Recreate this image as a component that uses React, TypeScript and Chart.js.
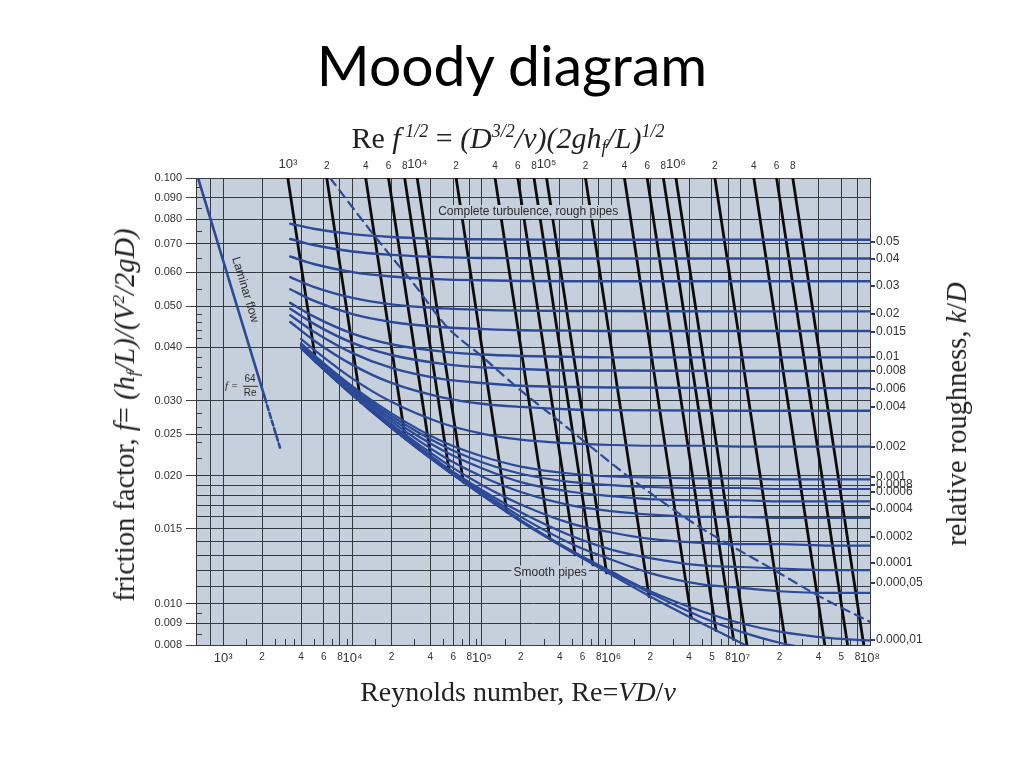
import React, { useEffect, useRef } from 'react';
import { Chart, registerables } from 'chart.js';

Chart.register(...registerables);

// ---------------- axis ticks ----------------
const xTickValues = [800, 1e3, 2e3, 4e3, 6e3, 8e3, 1e4, 2e4, 4e4, 6e4, 8e4, 1e5, 2e5, 4e5, 6e5, 8e5, 1e6, 2e6, 4e6, 6e6, 8e6, 1e7, 2e7, 4e7, 6e7, 8e7, 1e8];
const xTickLabels = ['', '10³', '2', '4', '6', '8', '10⁴', '2', '4', '6', '8', '10⁵', '2', '4', '6', '8', '10⁶', '2', '4', '5', '8', '10⁷', '2', '4', '5', '8', '10⁸'];
const topTickValues = [1e3, 2e3, 4e3, 6e3, 8e3, 1e4, 2e4, 4e4, 6e4, 8e4, 1e5, 2e5, 4e5, 6e5, 8e5, 1e6, 2e6, 4e6, 6e6, 8e6];
const topTickLabels = ['10³', '2', '4', '6', '8', '10⁴', '2', '4', '6', '8', '10⁵', '2', '4', '6', '8', '10⁶', '2', '4', '6', '8'];
const yTickValues = [0.008, 0.009, 0.010, 0.011, 0.012, 0.013, 0.014, 0.015, 0.016, 0.017, 0.018, 0.019, 0.020, 0.025, 0.030, 0.040, 0.050, 0.060, 0.070, 0.080, 0.090, 0.100];
const yTickLabels = ['0.008', '0.009', '0.010', '', '', '', '', '0.015', '', '', '', '', '0.020', '0.025', '0.030', '0.040', '0.050', '0.060', '0.070', '0.080', '0.090', '0.100'];
const kdTickF = [0.0708, 0.0645, 0.0558, 0.0480, 0.0435, 0.0380, 0.0352, 0.0320, 0.0290, 0.02336, 0.01987, 0.01903, 0.01832, 0.01671, 0.01437, 0.01248, 0.0112, 0.00823];
const kdTickLabels = ['0.05', '0.04', '0.03', '0.02', '0.015', '0.01', '0.008', '0.006', '0.004', '0.002', '0.001', '0.0008', '0.0006', '0.0004', '0.0002', '0.0001', '0.000,05', '0.000,01'];
const xMinorTicks = [1.5e3, 2.5e3, 3e3, 3.5e3, 5e3, 7e3, 9e3, 1.5e4, 3e4, 5e4, 7e4, 9e4, 1.5e5, 3e5, 5e5, 7e5, 9e5, 1.5e6, 3e6, 5e6, 7e6, 9e6, 1.5e7, 3e7, 5e7, 7e7, 9e7];
const yMinorTicks = [0.0085, 0.0095, 0.022, 0.024, 0.026, 0.028, 0.032, 0.034, 0.036, 0.038, 0.042, 0.044, 0.046, 0.048, 0.055, 0.065, 0.075, 0.085, 0.095];

// ---------------- roughness curves (f vs Re) ----------------
const reRough = [3300, 5000, 1e4, 2e4, 5e4, 1e5, 2e5, 5e5, 1e6, 1e7, 1e8];
const fKd0500 = [0.0781, 0.0760, 0.0738, 0.0727, 0.0720, 0.0718, 0.0717, 0.0716, 0.0716, 0.0716, 0.0716];
const fKd0400 = [0.0719, 0.0696, 0.0672, 0.0660, 0.0652, 0.0649, 0.0648, 0.0647, 0.0647, 0.0647, 0.0647];
const fKd0300 = [0.0654, 0.0628, 0.0601, 0.0587, 0.0578, 0.0575, 0.0573, 0.0572, 0.0572, 0.0572, 0.0572];
const fKd0200 = [0.0585, 0.0555, 0.0523, 0.0505, 0.0494, 0.0490, 0.0488, 0.0487, 0.0487, 0.0486, 0.0486];
const fKd0150 = [0.0548, 0.0515, 0.0479, 0.0459, 0.0446, 0.0442, 0.0439, 0.0438, 0.0437, 0.0437, 0.0437];
const fKd0100 = [0.0509, 0.0473, 0.0431, 0.0407, 0.0391, 0.0385, 0.0382, 0.0380, 0.0379, 0.0379, 0.0379];
const fKd0080 = [0.0493, 0.0455, 0.0410, 0.0384, 0.0366, 0.0359, 0.0356, 0.0353, 0.0353, 0.0352, 0.0352];
const fKd0060 = [0.0476, 0.0436, 0.0388, 0.0358, 0.0337, 0.0330, 0.0325, 0.0323, 0.0322, 0.0321, 0.0321];
const fKd0040 = [0.0459, 0.0416, 0.0364, 0.0330, 0.0305, 0.0295, 0.0290, 0.0286, 0.0285, 0.0284, 0.0284];

const reFine = [4000, 5000, 1e4, 2e4, 5e4, 1e5, 2e5, 5e5, 1e6, 2e6, 5e6, 1e7, 2e7, 5e7, 1e8];
const fKd0020 = [0.0419, 0.0396, 0.0338, 0.0298, 0.0265, 0.0251, 0.0243, 0.0238, 0.0236, 0.0235, 0.0235, 0.0234, 0.0234, 0.0234, 0.0234];
const fKd0010 = [0.0409, 0.0385, 0.0324, 0.0280, 0.0240, 0.0222, 0.0210, 0.0202, 0.0199, 0.0198, 0.0197, 0.0197, 0.0196, 0.0196, 0.0196];
const fKd0008 = [0.0407, 0.0383, 0.0321, 0.0276, 0.0235, 0.0215, 0.0202, 0.0193, 0.0190, 0.0188, 0.0187, 0.0187, 0.0186, 0.0186, 0.0186];
const fKd0006 = [0.0405, 0.0381, 0.0318, 0.0272, 0.0229, 0.0208, 0.0193, 0.0183, 0.0179, 0.0176, 0.0175, 0.0175, 0.0174, 0.0174, 0.0174];
const fKd0004 = [0.0403, 0.0378, 0.0316, 0.0268, 0.0222, 0.0199, 0.0183, 0.0170, 0.0165, 0.0162, 0.0160, 0.0160, 0.0159, 0.0159, 0.0159];
const fKd0002 = [0.0401, 0.0376, 0.0313, 0.0264, 0.0216, 0.0190, 0.0171, 0.0154, 0.0147, 0.0142, 0.0139, 0.0138, 0.0138, 0.0137, 0.0137];
const fKd0001 = [0.0400, 0.0375, 0.0311, 0.0262, 0.0212, 0.0185, 0.0164, 0.0144, 0.0134, 0.0128, 0.0123, 0.0122, 0.0121, 0.0120, 0.0120];
const fKd00005 = [0.0400, 0.0375, 0.0310, 0.0261, 0.0211, 0.0183, 0.0160, 0.0138, 0.0127, 0.0118, 0.0111, 0.0109, 0.0107, 0.0106, 0.0106];
const fKd00001 = [0.0399, 0.0374, 0.0309, 0.0259, 0.0209, 0.0181, 0.0157, 0.0133, 0.0119, 0.0107, 0.0096, 0.0090, 0.0086, 0.0083, 0.0082];
const fKd000005 = [0.0399, 0.0374, 0.0309, 0.0259, 0.0209, 0.0180, 0.0157, 0.0132, 0.0118, 0.0106, 0.0093, 0.0086, 0.0081, 0.0077, 0.0075];
const fSmooth = [0.0399, 0.0374, 0.0309, 0.0259, 0.0209, 0.0180, 0.0156, 0.0132, 0.0117, 0.0104, 0.0090, 0.0081, 0.0073, 0.0065, 0.0059];

// ---------------- lines of constant Re·f^1/2 ----------------
const reSqrtF = [1e3, 2e3, 4e3, 6e3, 8e3, 1e4, 2e4, 4e4, 6e4, 8e4, 1e5, 2e5, 4e5, 6e5, 8e5, 1e6, 2e6, 4e6, 6e6, 8e6];
const lineTopRe = [3162, 6325, 12649, 18974, 25298, 31623, 63246, 126491, 189737, 252982, 316228, 632456, 1264911, 1897367, 2529822, 3162278, 6324555, 12649111, 18973666, 25298221];
const lineTopF = [0.1, 0.1, 0.1, 0.1, 0.1, 0.1, 0.1, 0.1, 0.1, 0.1, 0.1, 0.1, 0.1, 0.1, 0.1, 0.1, 0.1, 0.1, 0.1, 0.1];
const lineEndRe = [5200, 11600, 25600, 40500, 56000, 71900, 156000, 335700, 525600, 720300, 919800, 1961000, 4160000, 6450000, 8810000, 11180000, 22360000, 44720000, 67080000, 89440000];
const lineEndF = [0.0370, 0.0297, 0.0244, 0.0219, 0.0204, 0.0193, 0.01644, 0.0142, 0.01303, 0.01234, 0.01182, 0.0104, 0.00925, 0.00865, 0.00825, 0.008, 0.008, 0.008, 0.008, 0.008];

// ---------------- complete-turbulence boundary (dashed) ----------------
const boundaryRe = [6714, 16350, 29400, 53840, 96850, 197400, 402000, 1397000, 4287000, 19110000, 41290000, 100000000];
const boundaryF = [0.1, 0.07037, 0.05669, 0.04469, 0.03842, 0.03179, 0.02675, 0.01976, 0.01549, 0.01189, 0.01038, 0.00907];

// ---------------- laminar flow f = 64/Re ----------------
const laminarRe = [640, 2100, 2750];
const laminarF = [0.1, 0.03048, 0.02327];

// ---------------- in-plot notes ----------------
const noteText = ['Complete turbulence, rough pipes', 'Smooth pipes', 'Laminar flow'];
const noteRe = [2.28e5, 3.37e5, 1.48e3];
const noteF = [0.0832, 0.01184, 0.0546];
const formulaRe = 1.26e3;
const formulaF = 0.0325;

const BLUE = '#2c4a98';
const PLOT_BG = '#c6d0dc';
const GRID = '#343a40';
const SANS = '"Liberation Sans", Arial, sans-serif';
const SERIF = '"Liberation Serif", "Times New Roman", serif';

const pts = (xs: number[], ys: number[]) => xs.map((x, i) => ({ x, y: ys[i] }));

export default function App() {
  const ref = useRef<HTMLCanvasElement>(null);

  useEffect(() => {
    const canvas = ref.current;
    if (!canvas) return;

    const fineCurves = [fKd0020, fKd0010, fKd0008, fKd0006, fKd0004, fKd0002, fKd0001, fKd00005, fKd00001, fKd000005, fSmooth];
    const roughCurves = [fKd0500, fKd0400, fKd0300, fKd0200, fKd0150, fKd0100, fKd0080, fKd0060, fKd0040];

    const datasets: any[] = [];
    datasets.push({
      label: 'boundary', data: pts(boundaryRe, boundaryF), borderColor: BLUE, borderWidth: 2.2,
      borderDash: [9, 6], cubicInterpolationMode: 'monotone', pointRadius: 0, order: 0,
    });
    datasets.push({
      label: 'laminar', data: pts(laminarRe.slice(0, 2), laminarF.slice(0, 2)), borderColor: BLUE, borderWidth: 2.6, pointRadius: 0, order: 0,
    });
    datasets.push({
      label: 'laminar-dashed', data: pts(laminarRe.slice(1), laminarF.slice(1)), borderColor: BLUE, borderWidth: 2.6, borderDash: [5, 3], pointRadius: 0, order: 0,
    });
    roughCurves.forEach((fs, i) => datasets.push({
      label: 'rough' + i, data: pts(reRough, fs), borderColor: BLUE, borderWidth: 2.4,
      cubicInterpolationMode: 'monotone', pointRadius: 0, order: 1,
    }));
    fineCurves.forEach((fs, i) => datasets.push({
      label: 'fine' + i, data: pts(reFine, fs), borderColor: BLUE, borderWidth: 2.2,
      cubicInterpolationMode: 'monotone', pointRadius: 0, order: 1,
    }));
    reSqrtF.forEach((t, i) => datasets.push({
      label: 'Re f^1/2 = ' + t,
      data: [{ x: lineTopRe[i], y: lineTopF[i] }, { x: lineEndRe[i], y: lineEndF[i] }],
      borderColor: '#0c0c0c', borderWidth: 2.8, pointRadius: 0, order: 2,
    }));

    const decorPlugin = {
      id: 'decor',
      beforeDraw(chart: any) {
        const { ctx, chartArea: a } = chart;
        ctx.save();
        ctx.fillStyle = '#ffffff';
        ctx.fillRect(0, 0, chart.width, chart.height);
        ctx.fillStyle = PLOT_BG;
        ctx.fillRect(a.left, a.top, a.right - a.left, a.bottom - a.top);
        ctx.restore();
      },
      beforeDatasetsDraw(chart: any) {
        const { ctx, chartArea: a, scales } = chart;
        ctx.save();
        ctx.strokeStyle = GRID;
        ctx.lineWidth = 1;
        ctx.beginPath();
        xMinorTicks.forEach((v) => {
          const px = Math.round(scales.x.getPixelForValue(v)) + 0.5;
          ctx.moveTo(px, a.bottom);
          ctx.lineTo(px, a.bottom - 6);
        });
        yMinorTicks.forEach((v) => {
          const py = Math.round(scales.y.getPixelForValue(v)) + 0.5;
          ctx.moveTo(a.left, py);
          ctx.lineTo(a.left + 6, py);
        });
        ctx.stroke();
        ctx.restore();
      },
      afterDatasetsDraw(chart: any) {
        const { ctx, scales } = chart;
        const sx = scales.x, sy = scales.y;
        ctx.save();
        ctx.font = '12px ' + SANS;
        ctx.textAlign = 'center';
        ctx.textBaseline = 'middle';
        for (let i = 0; i < 2; i++) {
          const px = sx.getPixelForValue(noteRe[i]);
          const py = sy.getPixelForValue(noteF[i]);
          const w = ctx.measureText(noteText[i]).width;
          ctx.fillStyle = PLOT_BG;
          ctx.fillRect(px - w / 2 - 2, py - 7, w + 4, 14);
          ctx.fillStyle = '#2a2a2a';
          ctx.fillText(noteText[i], px, py);
        }
        // Laminar flow label, rotated along the laminar line
        const p1x = sx.getPixelForValue(laminarRe[0]), p1y = sy.getPixelForValue(laminarF[0]);
        const p2x = sx.getPixelForValue(laminarRe[1]), p2y = sy.getPixelForValue(laminarF[1]);
        const ang = Math.atan2(p2y - p1y, p2x - p1x);
        ctx.save();
        ctx.translate(sx.getPixelForValue(noteRe[2]), sy.getPixelForValue(noteF[2]));
        ctx.rotate(ang);
        ctx.fillStyle = '#2a2a2a';
        ctx.fillText(noteText[2], 0, 0);
        ctx.restore();
        // f = 64 / Re
        const fx = sx.getPixelForValue(formulaRe), fy = sy.getPixelForValue(formulaF);
        ctx.fillStyle = '#2a2a2a';
        ctx.textAlign = 'right';
        ctx.font = 'italic 11px ' + SERIF;
        ctx.fillText('f =', fx + 2, fy);
        ctx.textAlign = 'center';
        ctx.font = '10px ' + SANS;
        ctx.fillText('64', fx + 14, fy - 7);
        ctx.fillText('Re', fx + 14, fy + 7);
        ctx.strokeStyle = '#2a2a2a';
        ctx.lineWidth = 1;
        ctx.beginPath();
        ctx.moveTo(fx + 7, fy + 0.5);
        ctx.lineTo(fx + 22, fy + 0.5);
        ctx.stroke();
        ctx.restore();
      },
    };

    const chart = new Chart(canvas, {
      type: 'line',
      data: { datasets },
      plugins: [decorPlugin],
      options: {
        animation: false,
        responsive: false,
        maintainAspectRatio: false,
        events: [],
        layout: { padding: 0 },
        plugins: { legend: { display: false }, tooltip: { enabled: false }, title: { display: false } },
        elements: { line: { borderCapStyle: 'round' } },
        scales: {
          x: {
            type: 'logarithmic', position: 'bottom', min: 617, max: 1e8,
            afterBuildTicks: (s: any) => { s.ticks = xTickValues.map((v) => ({ value: v })); },
            afterFit: (s: any) => { s.height = 123; },
            ticks: {
              autoSkip: false, maxRotation: 0, minRotation: 0, padding: 6, color: '#333',
              font: (c: any) => ({ family: SANS, size: (xTickLabels[c.index] || '').startsWith('10') ? 13 : 10 }),
              callback: (_v: any, i: number) => xTickLabels[i],
            },
            grid: { color: GRID, lineWidth: 1, drawTicks: false },
            border: { display: true, color: '#3a3a3a', width: 1 },
          },
          x2: {
            type: 'logarithmic', position: 'top', min: 195.1, max: 3.1623e7,
            afterBuildTicks: (s: any) => { s.ticks = topTickValues.map((v) => ({ value: v })); },
            afterFit: (s: any) => { s.height = 178; },
            ticks: {
              autoSkip: false, maxRotation: 0, minRotation: 0, padding: 6, color: '#333',
              font: (c: any) => ({ family: SANS, size: (topTickLabels[c.index] || '').startsWith('10') ? 13 : 10 }),
              callback: (_v: any, i: number) => topTickLabels[i],
            },
            grid: { drawOnChartArea: false, drawTicks: false },
            border: { display: true, color: '#3a3a3a', width: 1 },
          },
          y: {
            type: 'logarithmic', position: 'left', min: 0.008, max: 0.1,
            afterBuildTicks: (s: any) => { s.ticks = yTickValues.map((v) => ({ value: v })); },
            afterFit: (s: any) => { s.width = 196; },
            ticks: {
              autoSkip: false, padding: 4, color: '#333', font: { family: SANS, size: 11 },
              callback: (_v: any, i: number) => yTickLabels[i],
            },
            grid: {
              color: GRID, lineWidth: 1, drawTicks: true, tickLength: 10,
              tickColor: (c: any) => (yTickLabels[c.index] ? '#444' : 'rgba(0,0,0,0)'),
            },
            border: { display: true, color: '#3a3a3a', width: 1 },
          },
          y2: {
            type: 'logarithmic', position: 'right', min: 0.008, max: 0.1,
            afterBuildTicks: (s: any) => { s.ticks = kdTickF.map((v) => ({ value: v })); },
            afterFit: (s: any) => { s.width = 154; },
            ticks: {
              autoSkip: false, padding: 1, color: '#333', font: { family: SANS, size: 12 },
              callback: (_v: any, i: number) => kdTickLabels[i],
            },
            grid: { drawOnChartArea: false, drawTicks: true, tickLength: 5, tickColor: '#2c3e70', lineWidth: 2 },
            border: { display: true, color: '#3a3a3a', width: 1 },
          },
        },
      } as any,
    });
    return () => chart.destroy();
  }, []);

  const sup = { fontSize: '0.6em', verticalAlign: '0.6em', lineHeight: 0 } as const;
  const sub = { fontSize: '0.6em', verticalAlign: '-0.25em', lineHeight: 0 } as const;

  return (
    <div style={{ position: 'absolute', left: 0, top: 0, width: 1024, height: 768, background: '#fff', overflow: 'hidden' }}>
      <canvas ref={ref} width={1024} height={768} style={{ position: 'absolute', left: 0, top: 0, width: 1024, height: 768 }} />
      <div style={{ position: 'absolute', left: 0, top: 36, width: 1024, textAlign: 'center', fontFamily: 'Lato, "Open Sans", sans-serif', fontSize: 57, lineHeight: '57px', color: '#000', whiteSpace: 'nowrap' }}>
        Moody diagram
      </div>
      <div style={{ position: 'absolute', left: 508, top: 123, transform: 'translateX(-50%)', fontFamily: SERIF, fontSize: 30, lineHeight: '30px', color: '#222', whiteSpace: 'nowrap' }}>
        Re <i>f</i><i style={sup}> 1/2</i> = <i>(D</i><i style={sup}>3/2</i><i>/ν)(2gh</i><i style={sub}>f</i><i>/L)</i><i style={sup}>1/2</i>
      </div>
      <div style={{ position: 'absolute', left: 518, top: 678, transform: 'translateX(-50%)', fontFamily: SERIF, fontSize: 28, lineHeight: '28px', color: '#222', whiteSpace: 'nowrap' }}>
        Reynolds number, Re=<i>VD</i>/<i>ν</i>
      </div>
      <div style={{ position: 'absolute', left: 125, top: 415, transform: 'translate(-50%, -50%) rotate(-90deg)', fontFamily: SERIF, fontSize: 28.5, lineHeight: '28px', color: '#222', whiteSpace: 'nowrap' }}>
        friction factor, <i>f</i>= <i>(h</i><i style={sub}>f</i><i>/L)/(V</i><i style={sup}>2</i><i>/2gD)</i>
      </div>
      <div style={{ position: 'absolute', left: 957, top: 414, transform: 'translate(-50%, -50%) rotate(-90deg)', fontFamily: SERIF, fontSize: 28.5, lineHeight: '28px', color: '#222', whiteSpace: 'nowrap' }}>
        relative roughness, <i>k</i>/<i>D</i>
      </div>
    </div>
  );
}
